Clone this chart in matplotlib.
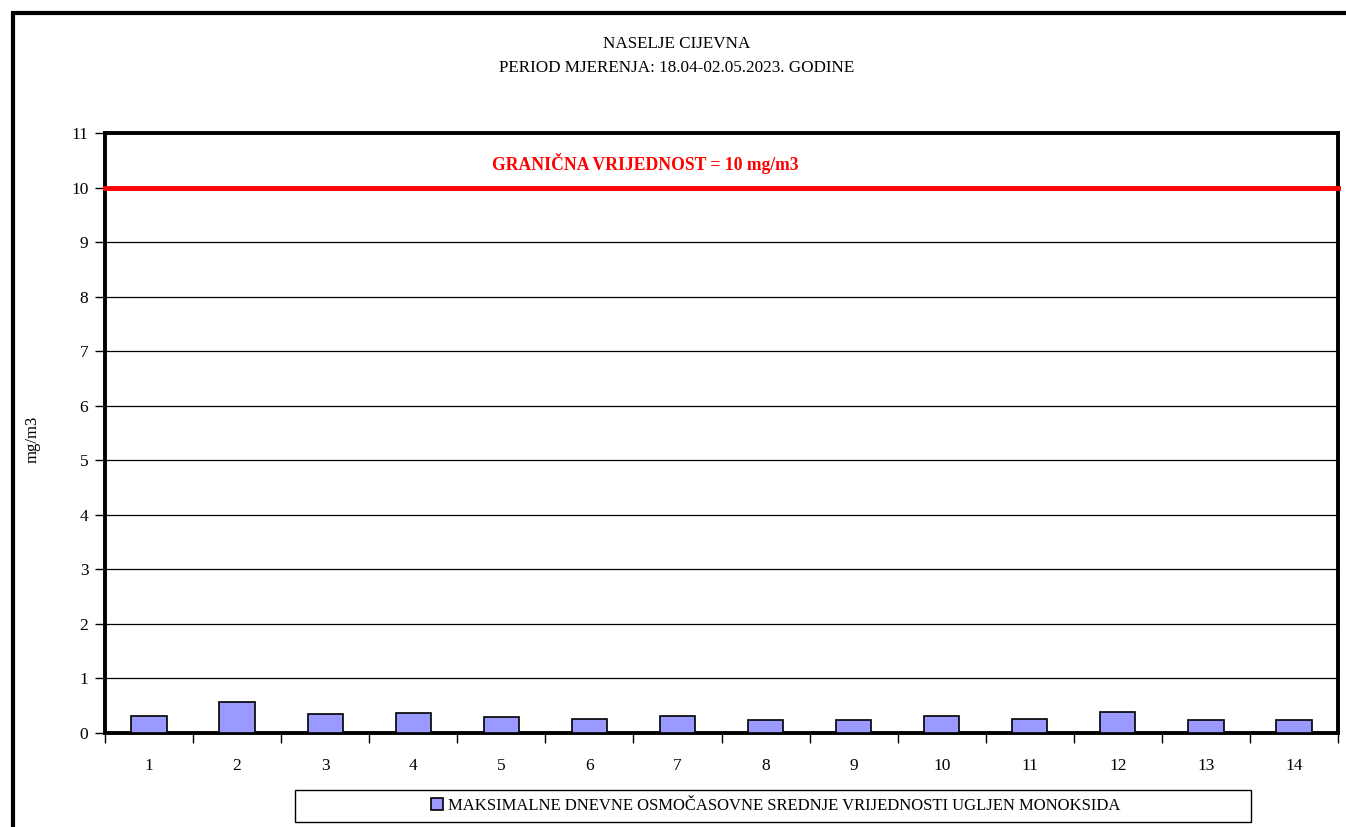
import matplotlib.pyplot as plt
import matplotlib.patches as patches
import numpy as np

plt.rcParams['font.family'] = ['Liberation Serif', 'DejaVu Serif']

days = [str(i) for i in range(1, 15)]
co_values = [0.32, 0.57, 0.35, 0.37, 0.29, 0.26, 0.32, 0.24, 0.24, 0.32, 0.26, 0.39, 0.24, 0.24]
limit_value = 10
series_label = 'MAKSIMALNE DNEVNE OSMOČASOVNE SREDNJE VRIJEDNOSTI UGLJEN MONOKSIDA'
limit_label = 'GRANIČNA VRIJEDNOST = 10 mg/m3'
title_lines = ['NASELJE CIJEVNA', 'PERIOD MJERENJA: 18.04-02.05.2023. GODINE']

W, H = 1346, 827
fig = plt.figure(figsize=(W / 100, H / 100), dpi=100)

# outer frame of the chart (cropped on right and bottom)
frame = patches.Rectangle((13 / W, -0.1), 1.2, (H - 13) / H + 0.1, transform=fig.transFigure,
                          fill=False, edgecolor='black', linewidth=3, clip_on=False)
fig.patches.append(frame)

ax = fig.add_axes([105 / W, 1 - 733 / H, (1338 - 105) / W, (733 - 133) / H])

x = np.arange(len(days))
ax.bar(x, co_values, width=0.4, color='#9999ff', edgecolor='black', linewidth=1.2,
       label=series_label, zorder=3)

ax.set_xlim(-0.5, len(days) - 0.5)
ax.set_ylim(0, 11)
ax.set_yticks(range(0, 12))
ax.yaxis.grid(True, color='black', linewidth=0.9)
ax.set_axisbelow(True)

ax.axhline(limit_value, color='red', linewidth=3.5, zorder=4, clip_on=False)
ax.text(5.63, 10.45, limit_label, color='red', fontsize=12.7, fontweight='bold', ha='center', va='center')

ax.set_xticks(x)
ax.set_xticklabels(days, fontsize=12.5)
ax.set_xticks(np.arange(-0.5, len(days)), minor=True)
ax.tick_params(axis='x', which='major', length=0, pad=18)
ax.tick_params(axis='x', which='minor', length=7, width=1, direction='out')
ax.tick_params(axis='y', length=7, width=1, direction='out', labelsize=12.5, pad=5)

for side in ['left', 'right', 'top', 'bottom']:
    ax.spines[side].set_linewidth(2.8)

ax.set_ylabel('mg/m3', fontsize=12)
ax.yaxis.set_label_coords(-64 / 1233, 0.49)

fig.text(677 / W, 1 - 44 / H, title_lines[0], ha='center', va='center', fontsize=12.3)
fig.text(677 / W, 1 - 68 / H, title_lines[1], ha='center', va='center', fontsize=12.3)

leg = ax.legend(loc='center', bbox_to_anchor=((776 - 105) / 1233, -(806 - 733) / 600),
                fontsize=12, frameon=False,
                handlelength=0.7, handleheight=0.7, handletextpad=0.3, borderpad=0.55,
                borderaxespad=0)
# wide legend box like the original
legend_box = patches.Rectangle((295 / W, 1 - 822 / H), (1251 - 295) / W, 32 / H,
                               transform=fig.transFigure, fill=False, edgecolor='black',
                               linewidth=1.0)
fig.patches.append(legend_box)

fig.savefig('out.png', dpi=100)
